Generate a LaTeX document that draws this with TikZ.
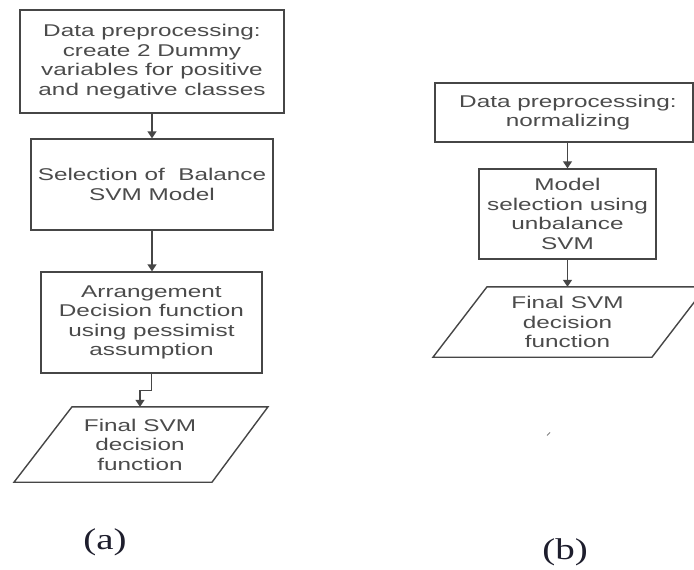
\documentclass[tikz,border=0pt]{standalone}
\usepackage{fontspec}
\usetikzlibrary{arrows.meta,calc}
\newfontfamily\boxfont{Liberation Sans}[FakeStretch=1.43]
\newfontfamily\capfont{Liberation Serif}[FakeStretch=1.3]
\definecolor{linec}{RGB}{70,70,70}
\definecolor{textc}{RGB}{75,75,75}
\definecolor{capc}{RGB}{30,30,45}
\begin{document}
\begin{tikzpicture}[x=1pt,y=-1pt,
  stepbox/.style={draw=linec,line width=1.4pt,rectangle,inner sep=0pt,align=center,
    font=\boxfont\fontsize{17}{19.5}\selectfont,text=textc},
  iobox/.style={rectangle,inner sep=0pt,align=center,
    font=\boxfont\fontsize{17}{19.5}\selectfont,text=textc},
  arr/.style={draw=linec,line width=1.4pt,-{Triangle[length=7pt,width=9pt]}},
  para/.style={draw=linec,line width=1.4pt,line join=miter},
  caplabel/.style={font=\capfont\fontsize{30}{34}\selectfont,text=capc,inner sep=0pt}]
\clip (0,0) rectangle (694,570);
\fill[white] (0,0) rectangle (694,570);
% (a)
\node[stepbox,minimum width=264pt,minimum height=103pt] (a1) at (152,61.5)
  {Data preprocessing:\\create 2 Dummy\\variables for positive\\and negative classes};
\node[stepbox,minimum width=242pt,minimum height=91pt] (a2) at (152,184.5)
  {Selection of\ \ Balance\\SVM Model};
\node[stepbox,minimum width=221pt,minimum height=101pt] (a3) at (151.5,322.5)
  {Arrangement\\Decision function\\using pessimist\\assumption};
\node[iobox,minimum width=120pt,minimum height=75pt] (a4) at (140,444.5)
  {Final SVM\\decision\\function};
\draw[para] ($(a4.north)+(-68,0)$) -- ($(a4.north)+(128,0)$) -- ($(a4.south)+(72,0)$)
  -- ($(a4.south)+(-126,0)$) -- cycle;
\draw[arr] (a1.south -| a2.north) -- (a2.north);
\draw[arr] (a2.south) -- (a2.south |- a3.north);
\draw[arr] (a3.south) -- ++(0,17) -| (a4.north);
\node[caplabel] (la) at (105,542) {(a)};
% (b)
\node[stepbox,minimum width=258pt,minimum height=59pt] (b1) at (564,112.5)
  {\hspace*{8pt}Data preprocessing:\\\hspace*{8pt}normalizing};
\node[stepbox,minimum width=177pt,minimum height=90pt] (b2) at (567.5,214)
  {Model\\selection using\\unbalance\\SVM};
\node[iobox,minimum width=120pt,minimum height=70pt] (b3) at (567.5,322)
  {Final SVM\\decision\\function};
\draw[para] ($(b3.north)+(-80.5,0)$) -- ($(b3.north)+(138.5,0)$) -- ($(b3.south)+(84.5,0)$)
  -- ($(b3.south)+(-134.5,0)$) -- cycle;
\draw[arr] (b2.north |- b1.south) -- (b2.north);
\draw[arr] (b2.south) -- (b3.north);
\draw[gray,line width=1pt] (547,435.5) -- (550,432.5);
\node[caplabel] (lb) at (565,552) {(b)};
\end{tikzpicture}
\end{document}
